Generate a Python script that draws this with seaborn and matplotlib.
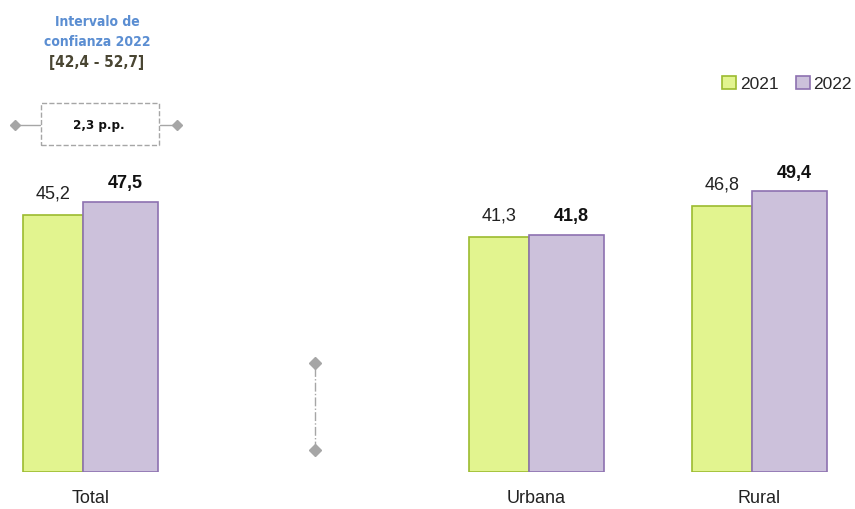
import pandas as pd
import matplotlib
matplotlib.use('Agg')
import matplotlib.pyplot as plt
from matplotlib.patches import Patch, Rectangle
from matplotlib.lines import Line2D
import seaborn as sns

# data
categories = ['Total', 'Urbana', 'Rural']
slot_order = ['Total', ' ', 'Urbana', 'Rural']
years = ['2021', '2022']
values_2021 = [45.2, 41.3, 46.8]
values_2022 = [47.5, 41.8, 49.4]
labels_2021 = ['45,2', '41,3', '46,8']
labels_2022 = ['47,5', '41,8', '49,4']
ci_title = ['Intervalo de', 'confianza 2022']
ci_range = '[42,4 - 52,7]'
diff_label = '2,3 p.p.'
marker_low, marker_high = 3.9, 19.2

fill_colors = {'2021': '#E2F48F', '2022': '#CCC1DB'}
edge_colors = {'2021': '#9CBB2F', '2022': '#8D71B0'}

df = pd.DataFrame({
    'zona': categories * 2,
    'anio': ['2021'] * 3 + ['2022'] * 3,
    'valor': values_2021 + values_2022,
})

sns.set_style('white')
plt.rcParams['font.family'] = ['Liberation Sans', 'DejaVu Sans']

fig = plt.figure(figsize=(8.55, 5.09), dpi=100)
px_per_unit = 5.68
ax_h = 80 * px_per_unit / 509
ax = fig.add_axes([0, 37 / 509, 1, ax_h])

sns.barplot(data=df, x='zona', y='valor', hue='anio', order=slot_order,
            hue_order=years, palette=fill_colors, errorbar=None,
            saturation=1, legend=False, ax=ax)

# the 2021 bars are narrower than the 2022 ones in the reference
w21, w22 = 60 / 223, 75 / 223
for year, cont in zip(years, ax.containers):
    for bar in cont:
        c = round(bar.get_x() + bar.get_width() / 2)
        if year == '2021':
            bar.set_x(c - (w21 + w22) / 2)
            bar.set_width(w21)
        else:
            bar.set_x(c - (w21 + w22) / 2 + w21)
            bar.set_width(w22)
        bar.set_edgecolor(edge_colors[year])
        bar.set_linewidth(1.2)

for bar, lab in zip(ax.containers[0], labels_2021):
    ax.annotate(lab, (bar.get_x() + bar.get_width() / 2, bar.get_height()),
                xytext=(0, 9), textcoords='offset points', ha='center',
                va='bottom', fontsize=13, color='#222222')
for bar, lab in zip(ax.containers[1], labels_2022):
    ax.annotate(lab, (bar.get_x() + bar.get_width() / 2 + 0.02, bar.get_height()),
                xytext=(0, 7), textcoords='offset points', ha='center',
                va='bottom', fontsize=13, fontweight='bold', color='#111111')

# marker in the empty slot
ax.plot([1.007, 1.007], [marker_low, marker_high], color='#A6A6A6', lw=1,
        ls='-.', marker='D', markersize=6, markerfacecolor='#A6A6A6',
        markeredgecolor='#A6A6A6')

ax.set_xlim(-90.5 / 223, (855 - 90.5) / 223)
ax.set_ylim(0, 80)
ax.set_xlabel('')
ax.set_ylabel('')
ax.set_yticks([])
ax.set_xticks(range(4))
ax.set_xticklabels(['Total', '', 'Urbana', 'Rural'], fontsize=13, color='#222222')
ax.tick_params(axis='x', length=0, pad=13)
sns.despine(ax=ax, left=True, bottom=True)

# legend
handles = [Patch(facecolor=fill_colors[y], edgecolor=edge_colors[y], lw=1.2, label=y)
           for y in years]
fig.legend(handles=handles, loc='center', bbox_to_anchor=(787 / 855, 1 - 84 / 509),
           ncol=2, frameon=False, fontsize=12.5, handlelength=0.8, handleheight=0.8,
           handletextpad=0.2, columnspacing=1.0)

# confidence interval box, top left
narrow = dict(family=['DejaVu Sans'], fontstretch='condensed', fontweight='bold')
fig.text(97 / 855, 1 - 22 / 509, ci_title[0], ha='center', va='center', fontsize=10,
         color='#5B8ED2', **narrow)
fig.text(97 / 855, 1 - 42 / 509, ci_title[1], ha='center', va='center', fontsize=10,
         color='#5B8ED2', **narrow)
fig.text(97 / 855, 1 - 62 / 509, ci_range, ha='center', va='center', fontsize=11,
         color='#4A4633', **narrow)
fig.patches.append(Rectangle((41 / 855, 1 - 145 / 509), 118 / 855, 42 / 509,
                             transform=fig.transFigure, fill=False, ls='--',
                             edgecolor='#A6A6A6', lw=1))
fig.text(99 / 855, 1 - 125 / 509, diff_label, ha='center', va='center', fontsize=9.5,
         color='#111111', **narrow)
for xs in ([15, 40], [160, 177]):
    fig.lines.append(Line2D([x / 855 for x in xs], [1 - 125 / 509] * 2,
                            transform=fig.transFigure, color='#A6A6A6', lw=1))
fig.lines.append(Line2D([15 / 855, 177 / 855], [1 - 125 / 509] * 2, ls='none',
                        marker='D', markersize=5.5, color='#A6A6A6',
                        transform=fig.transFigure))

fig.savefig('out.png', dpi=100)
